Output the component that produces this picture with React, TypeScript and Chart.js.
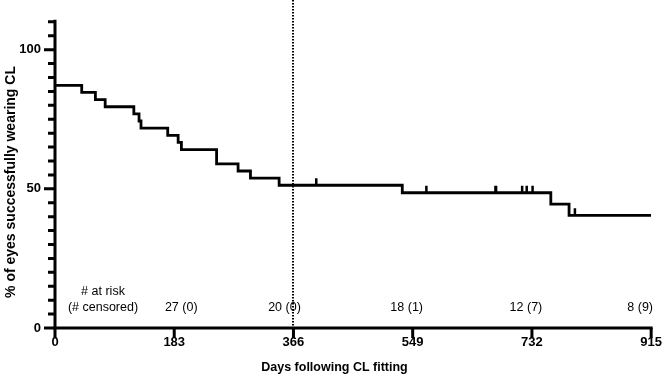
import { useEffect, useRef } from 'react';
import { Chart, registerables } from 'chart.js';

Chart.register(...registerables);

// Kaplan–Meier steps: day of each drop and the survival (%) after it
const eventDays = [0, 41, 62, 77, 121, 129, 132, 173, 189, 194, 248, 281, 300, 344, 533, 761, 789, 915];
const survivalPct = [87.18, 84.62, 82.05, 79.49, 76.92, 74.36, 71.79, 69.23, 66.67, 64.1, 58.97, 56.41, 53.85, 51.28, 48.58, 44.53, 40.48, 40.48];

// censored observations (days)
const censorDays = [401, 570, 676, 677, 717, 724, 733, 798];

const xTickValues = [0, 183, 366, 549, 732, 915];
const yLabelValues = [0, 50, 100];
const landmarkDay = 366;

// numbers at risk table
const atRiskDays = [183, 366, 549, 732, 915];
const atRiskCounts = [27, 20, 18, 12, 8];
const censoredCounts = [0, 0, 1, 7, 9];
const atRiskShift = [7, -9, -6, -6, -11];

const xTitle = 'Days following CL fitting';
const yTitle = '% of eyes successfully wearing CL';

const FONT = "'Liberation Sans', Arial, Helvetica, sans-serif";

function survivalAt(day: number): number {
  let v = survivalPct[0];
  for (let i = 0; i < eventDays.length; i++) {
    if (eventDays[i] <= day) v = survivalPct[i];
  }
  return v;
}

const kmDecorations = {
  id: 'kmDecorations',
  afterDraw(chart: any) {
    const { ctx, scales, width, height } = chart;
    const x = scales.x;
    const y = scales.y;
    const x0 = x.getPixelForValue(0);
    const y0 = y.getPixelForValue(0);
    const yTop = y.getPixelForValue(110);
    ctx.save();
    ctx.strokeStyle = '#000';
    ctx.lineCap = 'butt';

    // landmark line at one year
    ctx.lineWidth = 2;
    ctx.setLineDash([1.5, 1.5]);
    const lx = Math.round(x.getPixelForValue(landmarkDay));
    ctx.beginPath();
    ctx.moveTo(lx, 0);
    ctx.lineTo(lx, y0);
    ctx.stroke();
    ctx.setLineDash([]);

    // axes
    ctx.lineWidth = 3;
    ctx.beginPath();
    ctx.moveTo(x0, yTop - 2);
    ctx.lineTo(x0, y0);
    ctx.moveTo(x0 - 1.5, y0);
    ctx.lineTo(x.getPixelForValue(915) + 1.5, y0);
    ctx.stroke();

    // x ticks
    ctx.beginPath();
    for (const t of xTickValues) {
      const px = x.getPixelForValue(t);
      ctx.moveTo(px, y0);
      ctx.lineTo(px, y0 + 10);
    }
    ctx.stroke();

    // y ticks, major every 50 and minor every 5
    ctx.beginPath();
    for (let v = 0; v <= 110; v += 5) {
      const py = y.getPixelForValue(v);
      const len = v % 50 === 0 ? 11 : 7;
      ctx.moveTo(x0, py);
      ctx.lineTo(x0 - len, py);
    }
    ctx.stroke();

    // censor marks
    ctx.lineWidth = 2.5;
    ctx.beginPath();
    for (const d of censorDays) {
      const px = x.getPixelForValue(d);
      const py = y.getPixelForValue(survivalAt(d));
      ctx.moveTo(px, py);
      ctx.lineTo(px, py - 7);
    }
    ctx.stroke();

    // at-risk table
    ctx.fillStyle = '#000';
    ctx.font = `12.5px ${FONT}`;
    ctx.textAlign = 'center';
    ctx.textBaseline = 'middle';
    ctx.fillText('# at risk', x0 + 48, 292);
    ctx.fillText('(# censored)', x0 + 48, 308);
    atRiskDays.forEach((d, i) => {
      const px = x.getPixelForValue(d) + atRiskShift[i];
      ctx.fillText(`${atRiskCounts[i]} (${censoredCounts[i]})`, px, 308);
    });

    // axis titles
    ctx.font = `bold 12.5px ${FONT}`;
    ctx.fillText(xTitle, width / 2, height - 7);
    ctx.save();
    ctx.translate(11, 182);
    ctx.rotate(-Math.PI / 2);
    ctx.font = `bold 14px ${FONT}`;
    ctx.fillText(yTitle, 0, 0);
    ctx.restore();

    ctx.restore();
  },
};

export default function App() {
  const canvasRef = useRef<HTMLCanvasElement | null>(null);

  useEffect(() => {
    const canvas = canvasRef.current;
    if (!canvas) return;
    const chart = new Chart(canvas, {
      type: 'line',
      data: {
        datasets: [
          {
            data: eventDays.map((d, i) => ({ x: d, y: survivalPct[i] })),
            stepped: true,
            borderColor: '#000',
            borderWidth: 2.8,
            pointRadius: 0,
            fill: false,
          },
        ],
      },
      options: {
        animation: false,
        responsive: false,
        maintainAspectRatio: false,
        layout: { padding: { left: 0, right: 11, top: 2, bottom: 0 } },
        plugins: { legend: { display: false }, tooltip: { enabled: false } },
        scales: {
          x: {
            type: 'linear',
            min: 0,
            max: 915,
            afterBuildTicks: (s: any) => {
              s.ticks = xTickValues.map((v) => ({ value: v }));
            },
            afterFit: (s: any) => {
              s.height = 47;
            },
            grid: { display: false, drawTicks: false },
            border: { display: false },
            ticks: {
              padding: 7,
              autoSkip: false,
              maxRotation: 0,
              color: '#000',
              font: { family: FONT, size: 13, weight: 'bold' },
            },
          },
          y: {
            type: 'linear',
            min: 0,
            max: 110,
            afterBuildTicks: (s: any) => {
              s.ticks = yLabelValues.map((v) => ({ value: v }));
            },
            afterFit: (s: any) => {
              s.width = 55;
            },
            grid: { display: false, drawTicks: false },
            border: { display: false },
            ticks: {
              padding: 14,
              color: '#000',
              font: { family: FONT, size: 13, weight: 'bold' },
            },
          },
        },
      },
      plugins: [kmDecorations],
    });
    return () => chart.destroy();
  }, []);

  return (
    <div style={{ position: 'fixed', left: 0, top: 0, width: 669, height: 375, background: '#fff' }}>
      <canvas ref={canvasRef} width={669} height={375} style={{ width: 669, height: 375 }} />
    </div>
  );
}
